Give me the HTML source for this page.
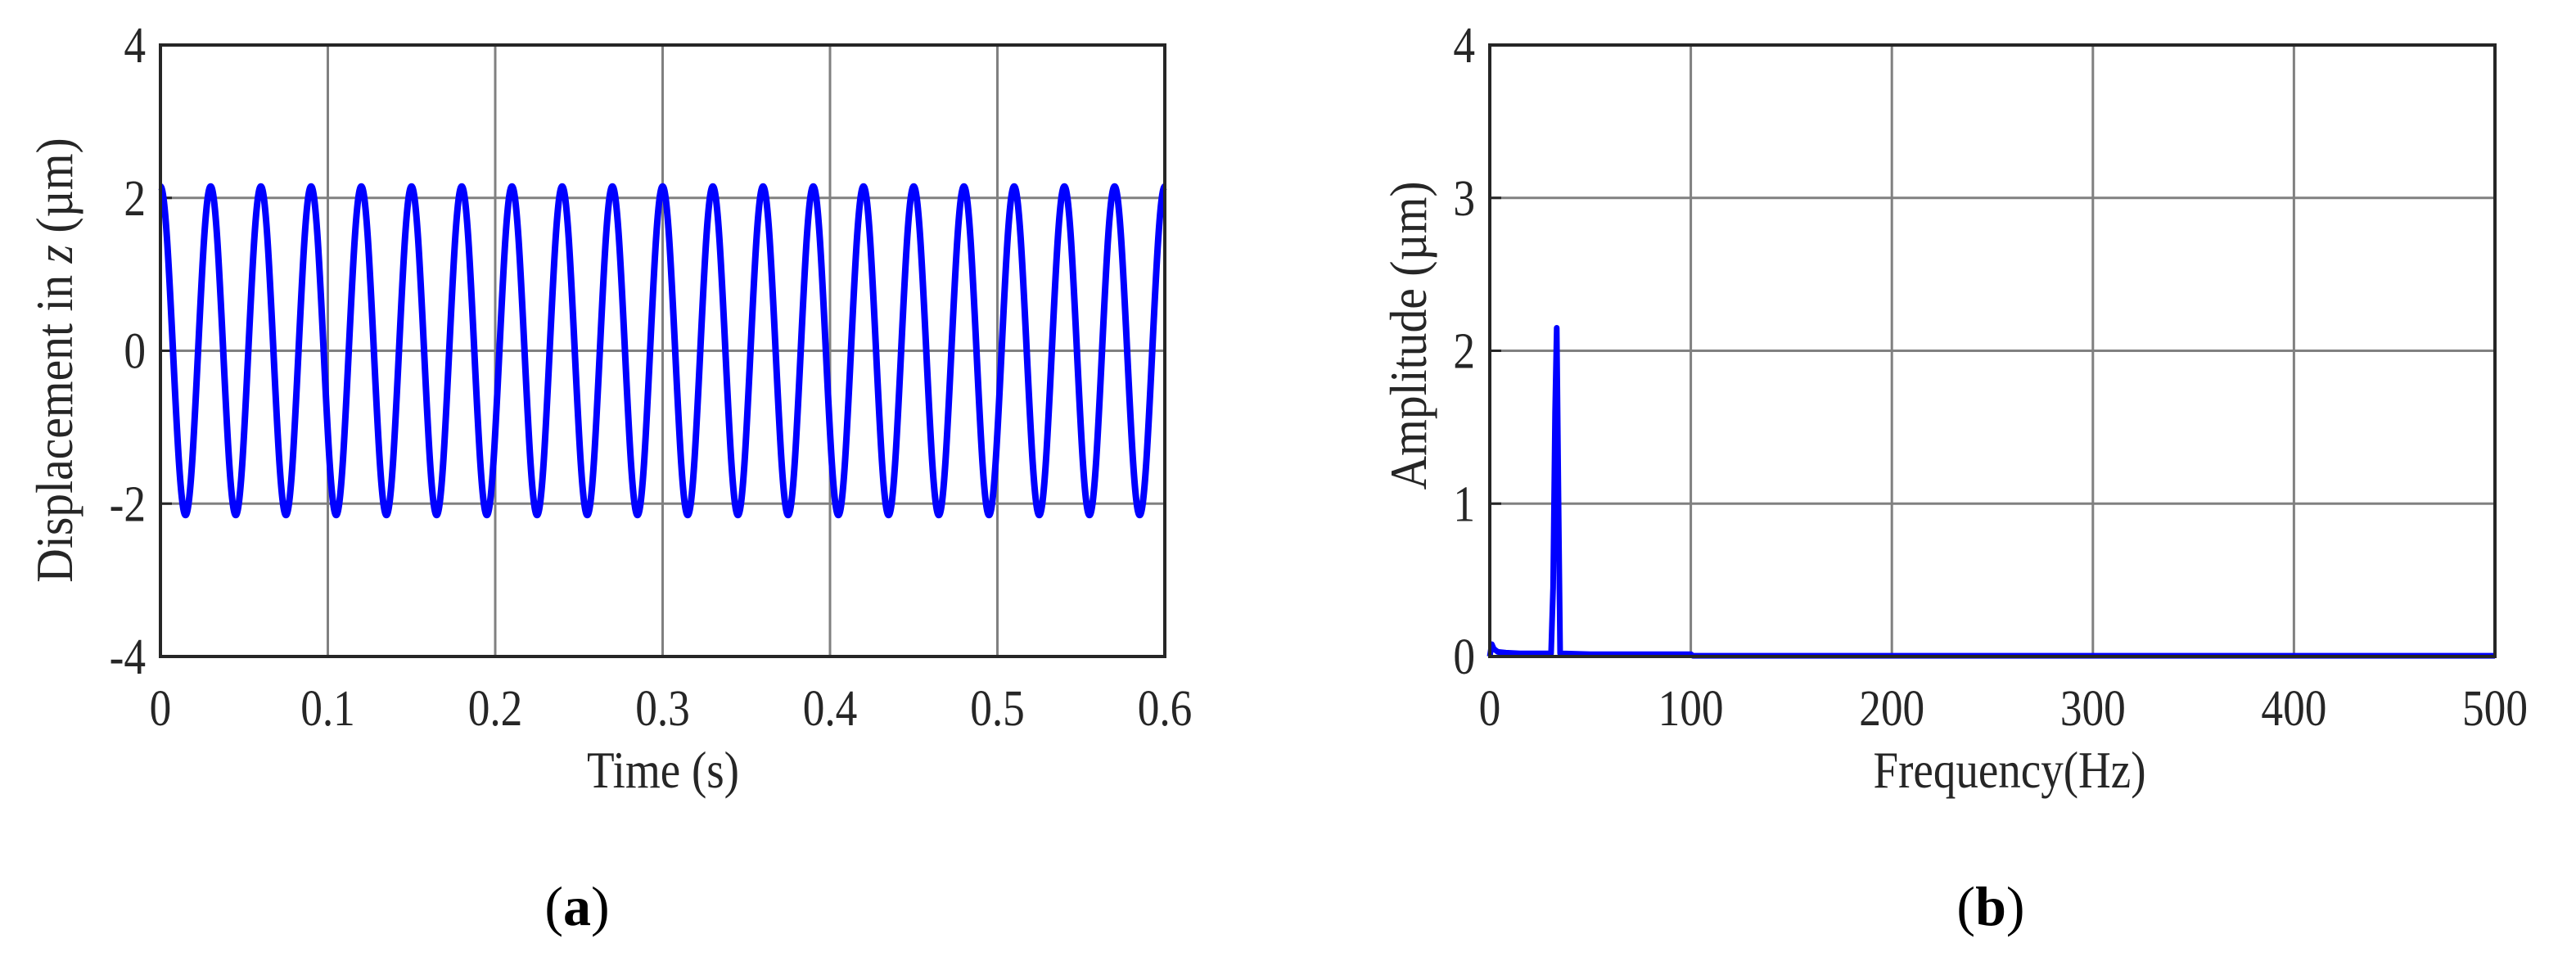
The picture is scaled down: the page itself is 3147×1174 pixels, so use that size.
<!DOCTYPE html>
<html><head><meta charset="utf-8"><style>
html,body{margin:0;padding:0;background:#fff;}
svg{display:block;font-family:"Liberation Serif",serif;}
</style></head><body>
<svg id="fig" width="3147" height="1174" viewBox="0 0 3147 1174" xmlns="http://www.w3.org/2000/svg"></svg>
<script>
// ---- Chart (a) data: extrema of displacement signal ----
const timeExtremaT = [0,0.015,0.03,0.045,0.06,0.075,0.09,0.105,0.12,0.135,0.15,0.165,0.18,0.195,0.21,0.225,0.24,0.255,0.27,0.285,0.3,0.315,0.33,0.345,0.36,0.375,0.39,0.405,0.42,0.435,0.45,0.465,0.48,0.495,0.51,0.525,0.54,0.555,0.57,0.585,0.6];
const timeExtremaV = [2.15,-2.15,2.15,-2.15,2.15,-2.15,2.15,-2.15,2.15,-2.15,2.15,-2.15,2.15,-2.15,2.15,-2.15,2.15,-2.15,2.15,-2.15,2.15,-2.15,2.15,-2.15,2.15,-2.15,2.15,-2.15,2.15,-2.15,2.15,-2.15,2.15,-2.15,2.15,-2.15,2.15,-2.15,2.15,-2.15,2.15];
const xTicksA = [0,0.1,0.2,0.3,0.4,0.5,0.6];
const xTickLabelsA = ["0","0.1","0.2","0.3","0.4","0.5","0.6"];
const yTicksA = [-4,-2,0,2,4];
const yTickLabelsA = ["-4","-2","0","2","4"];
// ---- Chart (b) data: amplitude spectrum ----
const freqHz = [0,1,2,4,8,15,25,30.5,31.5,32.5,33.3,34.2,35,36,50,100,101,200,300,400,500];
const amplitude = [0.0,0.08,0.05,0.03,0.025,0.02,0.02,0.02,0.45,1.6,2.15,1.0,0.02,0.02,0.015,0.015,0.005,0.005,0.005,0.005,0.005];
const xTicksB = [0,100,200,300,400,500];
const xTickLabelsB = ["0","100","200","300","400","500"];
const yTicksB = [0,1,2,3,4];
const yTickLabelsB = ["0","1","2","3","4"];

const NS="http://www.w3.org/2000/svg";
const svg=document.getElementById('fig');
function mk(tag,attrs,parent){const e=document.createElementNS(NS,tag);for(const k in attrs)e.setAttribute(k,attrs[k]);(parent||svg).appendChild(e);return e;}
function txt(str,x,y,size,anchor,parent,rot,weight){
  const g=mk('g',{transform:`translate(${x},${y})`+(rot?` rotate(${rot})`:'')+' scale(0.86,1)'},parent);
  const t=mk('text',{x:0,y:0,'font-size':size,'text-anchor':anchor,fill:'#262626'},g);
  if(weight)t.setAttribute('font-weight',weight);
  t.textContent=str;return t;}

function axes(cfg){
  const {L,R,T,B,xmin,xmax,ymin,ymax,xt,xtl,yt,ytl,name}=cfg;
  const sx=v=>L+(v-xmin)/(xmax-xmin)*(R-L);
  const sy=v=>B-(v-ymin)/(ymax-ymin)*(B-T);
  const g=mk('g',{});
  
  
  xt.forEach((v,i)=>{
    const l=mk('line',{x1:sx(v),x2:sx(v),y1:T,y2:B,stroke:'#808080','stroke-width':3},g);
    
    
    const t=txt(xtl[i],sx(v),886,62,'middle',g);
    
    
  });
  yt.forEach((v,i)=>{
    const l=mk('line',{x1:L,x2:R,y1:sy(v),y2:sy(v),stroke:'#808080','stroke-width':3},g);
    
    
    const t=txt(ytl[i],L-18,sy(v)+21,62,'end',g);
    
    
    const tk=mk('line',{x1:L,x2:L+14,y1:sy(v),y2:sy(v),stroke:'#262626','stroke-width':3},g);
    
    
  });
  return {sx,sy,g};
}
function frame(L,R,T,B,name){
  const r=mk('rect',{x:L,y:T,width:R-L,height:B-T,fill:'none',stroke:'#262626','stroke-width':4});
  
  
}

// ---- Chart (a) ----
const A={L:196,R:1423,T:55,B:802};
const ax=axes({...A,xmin:0,xmax:0.6,ymin:-4,ymax:4,xt:xTicksA,xtl:xTickLabelsA,yt:yTicksA,ytl:yTickLabelsA,name:'chart-a'});
let d=`M${ax.sx(timeExtremaT[0])},${ax.sy(timeExtremaV[0])}`;
for(let i=1;i<timeExtremaT.length;i++){
  const x0=ax.sx(timeExtremaT[i-1]),x1=ax.sx(timeExtremaT[i]);
  const y0=ax.sy(timeExtremaV[i-1]),y1=ax.sy(timeExtremaV[i]);
  const k=0.3642*(x1-x0);
  d+=` C${x0+k},${y0} ${x1-k},${y1} ${x1},${y1}`;
}
const lineA=mk('path',{d,fill:'none',stroke:'#0000ff','stroke-width':8,'stroke-linejoin':'round'});


frame(A.L,A.R,A.T,A.B,'chart-a');
let t=txt('Time (s)',810,962,64,'middle');


const yl=mk('g',{transform:'translate(88,440) rotate(-90) scale(0.9,1)'});


const ylt=mk('text',{x:0,y:0,'font-size':64,'text-anchor':'middle',fill:'#262626'},yl);
ylt.innerHTML='Displacement in <tspan font-style="italic">z</tspan> (µm)';
t=mk('text',{x:705,y:1130,'font-size':68,'text-anchor':'middle',fill:'#000'});
t.innerHTML='(<tspan font-weight="bold">a</tspan>)';



// ---- Chart (b) ----
const Bc={L:1820,R:3048,T:55,B:802};
const bx=axes({...Bc,xmin:0,xmax:500,ymin:0,ymax:4,xt:xTicksB,xtl:xTickLabelsB,yt:yTicksB,ytl:yTickLabelsB,name:'chart-b'});
let pts=freqHz.map((f,i)=>`${bx.sx(f)},${bx.sy(amplitude[i])}`).join(' ');
const lineB=mk('polyline',{points:pts,fill:'none',stroke:'#0000ff','stroke-width':7,'stroke-linejoin':'round'});


frame(Bc.L,Bc.R,Bc.T,Bc.B,'chart-b');
t=txt('Frequency(Hz)',2455,962,64,'middle');


const yl2=mk('g',{transform:'translate(1742,410) rotate(-90) scale(0.9,1)'});


const yl2t=mk('text',{x:0,y:0,'font-size':64,'text-anchor':'middle',fill:'#262626'},yl2);
yl2t.textContent='Amplitude (µm)';
t=mk('text',{x:2432,y:1130,'font-size':68,'text-anchor':'middle',fill:'#000'});
t.innerHTML='(<tspan font-weight="bold">b</tspan>)';


</script>
</body></html>
